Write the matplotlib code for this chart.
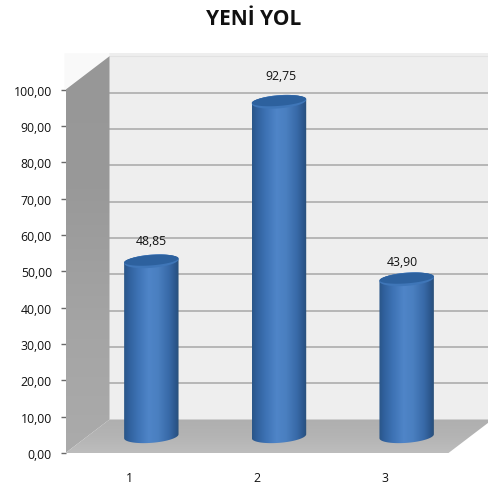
import numpy as np
import matplotlib
matplotlib.use("Agg")
import matplotlib.pyplot as plt
from matplotlib.path import Path
from matplotlib.patches import Polygon
from matplotlib.colors import LinearSegmentedColormap

title = "YENİ YOL"
categories = ["1", "2", "3"]
values = [48.85, 92.75, 43.90]
value_labels = ["48,85", "92,75", "43,90"]
y_ticks = [0, 10, 20, 30, 40, 50, 60, 70, 80, 90, 100]
y_tick_labels = ["0,00", "10,00", "20,00", "30,00", "40,00", "50,00",
                 "60,00", "70,00", "80,00", "90,00", "100,00"]
label_shift_px = [(0, 18), (2, 24), (-4, 15)]

W, H = 488, 485
L, R, Y0, Y100 = 65.5, 448.5, 454.0, 90.7
DX, DY = 44.0, 33.5
TOP_DROP = 2.5
FONT = "Open Sans"
FS = 8.8

fig = plt.figure(figsize=(W / 100, H / 100), dpi=100, facecolor="white")
ax = fig.add_axes([L / W, 1 - Y0 / H, (R - L) / W, (Y0 - Y100) / H])
ax.set_xlim(0.5, 3.5)
ax.set_ylim(0, 100)
for s in ax.spines.values():
    s.set_visible(False)
ax.patch.set_visible(False)

px_x = 3.0 / (R - L)
px_y = 100.0 / (Y0 - Y100)
dx, dy = DX * px_x, DY * px_y


def poly(pts, color, z):
    p = Polygon(pts, closed=True, facecolor=color, edgecolor="none",
                zorder=z, clip_on=False)
    ax.add_patch(p)
    return p


def grad_fill(pts_path, extent, stops, vertical, z):
    cmap = LinearSegmentedColormap.from_list("g", stops)
    g = np.linspace(0, 1, 256)
    arr = g[:, None] if vertical else g[None, :]
    im = ax.imshow(arr, extent=extent, origin="lower", cmap=cmap, vmin=0, vmax=1,
                   aspect="auto", zorder=z, interpolation="bilinear")
    im.set_clip_box(fig.bbox)
    im.set_clip_path(pts_path, ax.transData)
    return im


# back wall, top-left corner, side wall, floor
x0, x1 = 0.5, 3.5
top = 100 + dy + 0.8
poly([(x0 + dx, dy), (x1 + dx, dy), (x1 + dx, top), (x0 + dx, top)], "#eeeeee", 1)
poly([(x0 - 0.008, 100), (x0 + dx, 100 + dy), (x0 + dx, top), (x0 - 0.008, top)], "#f9f9f9", 1)
grad_fill(Path([(x0, 0), (x0 + dx, dy), (x0 + dx, 100 + dy), (x0, 100), (x0, 0)]),
          (x0, x0 + dx, 0, 100 + dy), ["#ababab", "#a4a4a4", "#999999", "#979797"], True, 2)
grad_fill(Path([(x0, 0), (x1, 0), (x1 + dx, dy), (x0 + dx, dy), (x0, 0)]),
          (x0, x1 + dx, 0, dy), ["#bdbdbd", "#b4b4b4", "#afafaf"], True, 2)

# gridlines on the back wall
for t in y_ticks[1:]:
    lw = 1.3 if t < 100 else 0.8
    c = "#b2b2b2" if t < 100 else "#e2e2e2"
    ax.plot([x0 + dx, x1 + dx], [t + dy, t + dy], color=c, lw=lw, zorder=1.5,
            clip_on=False, solid_capstyle="butt")

# cylinders
hw = 27.2 * px_x
ry = 6.6
tilt = 2.0
body_stops = [(0.0, "#2a5587"), (0.08, "#2f5f9b"), (0.25, "#3d72b4"), (0.45, "#4f85c8"),
              (0.62, "#4a7fc0"), (0.82, "#386aa8"), (0.94, "#2b568c"), (1.0, "#2a5078")]
th = np.linspace(0, 2 * np.pi, 90)


def ellipse(cx, cy, a, b):
    ex = cx + hw * np.cos(a)
    ey = cy + (b * np.sin(a) + tilt * np.cos(a)) * px_y
    return ex, ey


for i, v in enumerate(values):
    cx = i + 1 + dx / 2
    by = dy / 2
    ty = v + dy / 2 - TOP_DROP * px_y
    a_low = np.linspace(np.pi, 2 * np.pi, 45)
    a_up = np.linspace(0, np.pi, 45)
    bx, byy = ellipse(cx, by, a_low, ry)
    ux, uy = ellipse(cx, ty, a_up, ry)
    verts = np.vstack([np.c_[bx, byy], np.c_[ux, uy], [[bx[0], byy[0]]]])
    grad_fill(Path(verts), (cx - hw, cx + hw, 0, 110), body_stops, False, 4)
    rx, ryy = ellipse(cx, ty, th, ry)
    poly(np.c_[rx, ryy], "#3f76b8", 5)
    rx2, ryy2 = ellipse(cx, ty + 1.0 * px_y, th, ry - 1.5)
    poly(np.c_[rx2, ryy2], "#2d619e", 5.5)
    ax.text(cx + label_shift_px[i][0] * px_x,
            v + dy / 2 + label_shift_px[i][1] * px_y,
            value_labels[i], ha="center", va="center", fontsize=FS,
            family=FONT, color="#111111", zorder=7, clip_on=False)

ax.set_xlim(0.5, 3.5)
ax.set_ylim(0, 100)

# axes ticks and labels
ax.set_yticks(y_ticks)
ax.set_yticklabels(y_tick_labels, family=FONT, fontsize=FS, color="#111111")
ax.tick_params(axis="y", length=3.8, width=1.0, color="#6a6a6a", pad=6)
ax.set_xticks([1, 2, 3])
ax.set_xticklabels(categories, family=FONT, fontsize=FS, color="#111111")
ax.tick_params(axis="x", length=0, pad=13)

fig.text(254 / W, 1 - 19.5 / H, title, ha="center", va="center", fontsize=15,
         fontweight="bold", family=FONT, color="#111111")

fig.savefig("out.png", dpi=100, facecolor="white")
